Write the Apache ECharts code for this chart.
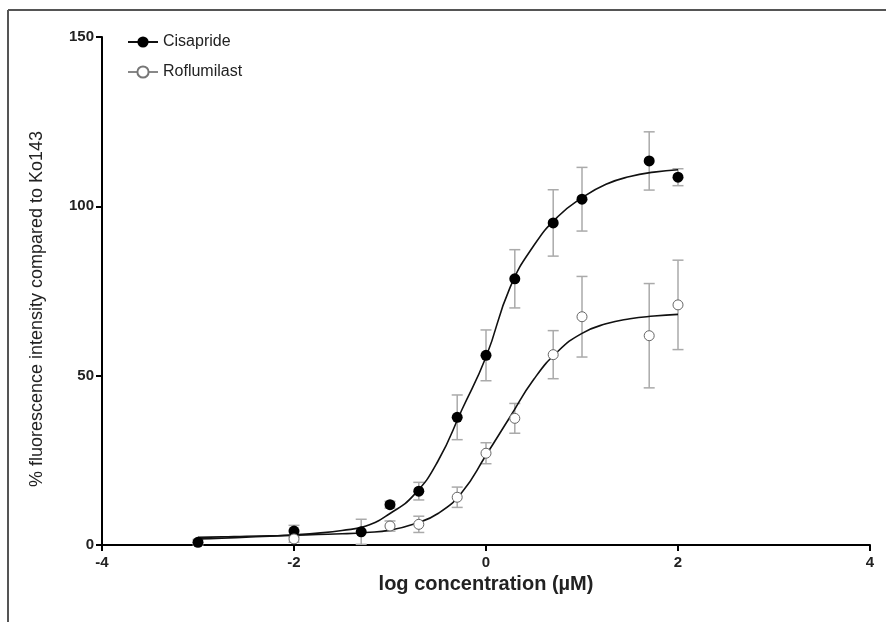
<!DOCTYPE html>
<html><head><meta charset="utf-8">
<script src="https://cdn.jsdelivr.net/npm/echarts@6/dist/echarts.min.js"></script>
<style>html,body{margin:0;padding:0;background:#fff}#c{width:886px;height:622px}</style>
</head><body><div id="c"></div>
<script>
// Measured data (log concentration in µM, mean and error)
const cisLogConc = [-3, -2, -1.3, -1, -0.7, -0.3, 0, 0.3, 0.7, 1, 1.7, 2];
const cisMean    = [0.8, 4.1, 3.9, 11.9, 15.9, 37.7, 56.0, 78.6, 95.1, 102.1, 113.4, 108.6];
const cisErr     = [0.8, 1.7, 3.7, 1.0, 2.6, 6.6, 7.5, 8.6, 9.8, 9.4, 8.6, 2.5];
const rofLogConc = [-2, -1, -0.7, -0.3, 0, 0.3, 0.7, 1, 1.7, 2];
const rofMean    = [1.8, 5.6, 6.1, 14.1, 27.1, 37.4, 56.2, 67.4, 61.8, 70.9];
const rofErr     = [1.0, 1.5, 2.4, 3.0, 3.1, 4.4, 7.1, 11.9, 15.4, 13.2];
// Fitted curves
const fitX   = [-3, -2.75, -2.5, -2.25, -2, -1.75, -1.5, -1.25, -1, -0.75, -0.5, -0.25, 0, 0.25, 0.5, 0.75, 1, 1.25, 1.5, 1.75, 2];
const cisFit = [1.8, 2.0, 2.3, 2.6, 3.0, 3.5, 4.3, 5.6, 9.3, 14.8, 24.8, 40.0, 55.5, 76.0, 88.5, 97.0, 102.5, 106.5, 108.8, 110.1, 110.8];
const rofFit = [2.3, 2.4, 2.6, 2.7, 2.9, 3.1, 3.3, 3.7, 4.4, 6.2, 9.3, 15.6, 26.5, 37.8, 49.0, 57.2, 62.5, 65.3, 66.8, 67.6, 68.1];
const xTicks = [-4, -2, 0, 2, 4];
const yTicks = [0, 50, 100, 150];

const FONT = "'Liberation Sans Narrow', 'Liberation Sans', Arial, sans-serif";
const chart = echarts.init(document.getElementById('c'), null, {renderer: 'canvas'});

function errSeries(xs, means, errs) {
  return {
    type: 'custom', silent: true, z: 1,
    data: xs.map((x, i) => [x, means[i] - errs[i], means[i] + errs[i]]),
    encode: {x: 0, y: [1, 2]},
    renderItem(params, api) {
      const x = api.value(0), lo = api.value(1), hi = api.value(2);
      const p1 = api.coord([x, lo]), p2 = api.coord([x, hi]);
      const w = 5.5, st = {stroke: '#aaaaaa', lineWidth: 1.5};
      return {type: 'group', children: [
        {type: 'line', shape: {x1: p1[0], y1: p1[1], x2: p2[0], y2: p2[1]}, style: st},
        {type: 'line', shape: {x1: p1[0] - w, y1: p1[1], x2: p1[0] + w, y2: p1[1]}, style: st},
        {type: 'line', shape: {x1: p2[0] - w, y1: p2[1], x2: p2[0] + w, y2: p2[1]}, style: st}
      ]};
    }
  };
}

chart.setOption({
  animation: false,
  backgroundColor: '#fff',
  grid: {left: 102, right: 16, top: 37, bottom: 77, containLabel: false},
  legend: {
    orient: 'vertical', left: 122, top: 29, itemWidth: 30, itemHeight: 14, itemGap: 14,
    textStyle: {fontFamily: 'Liberation Sans, Arial, sans-serif', fontSize: 16, color: '#222'},
    data: [
      {name: 'Cisapride'},
      {name: 'Roflumilast', lineStyle: {color: '#888'}}
    ]
  },
  xAxis: {
    type: 'value', min: xTicks[0], max: xTicks[xTicks.length - 1], interval: 2,
    name: 'log concentration (µM)', nameLocation: 'middle', nameGap: 29,
    nameTextStyle: {fontFamily: FONT, fontWeight: 'bold', fontSize: 20, color: '#222'},
    axisLine: {onZero: false, lineStyle: {color: '#000', width: 2}},
    axisTick: {show: true, length: 6, lineStyle: {color: '#000', width: 2}},
    axisLabel: {fontFamily: FONT, fontWeight: 'bold', fontSize: 15, color: '#222', margin: 10},
    splitLine: {show: false}
  },
  yAxis: {
    type: 'value', min: yTicks[0], max: yTicks[yTicks.length - 1], interval: 50,
    name: '% fluorescence intensity compared to Ko143', nameLocation: 'middle', nameGap: 56,
    nameTextStyle: {fontFamily: 'Liberation Sans, Arial, sans-serif', fontSize: 18, color: '#222', padding: [0, 36, 0, 0]},
    axisLine: {show: true, onZero: false, lineStyle: {color: '#000', width: 2}},
    axisTick: {show: true, length: 6, lineStyle: {color: '#000', width: 2}},
    axisLabel: {fontFamily: FONT, fontWeight: 'bold', fontSize: 15, color: '#222', margin: 8},
    splitLine: {show: false}
  },
  graphic: [
    {type: 'line', shape: {x1: 8, y1: 10, x2: 886, y2: 10}, style: {stroke: '#555', lineWidth: 2}, silent: true},
    {type: 'line', shape: {x1: 8, y1: 10, x2: 8, y2: 622}, style: {stroke: '#555', lineWidth: 2}, silent: true}
  ],
  series: [
    errSeries(cisLogConc, cisMean, cisErr),
    errSeries(rofLogConc, rofMean, rofErr),
    {
      name: 'Cisapride', type: 'line', smooth: true, showSymbol: false, symbol: 'circle', z: 2,
      data: fitX.map((x, i) => [x, cisFit[i]]),
      lineStyle: {color: '#111', width: 1.6}, itemStyle: {color: '#000'}
    },
    {
      name: 'Roflumilast', type: 'line', smooth: true, showSymbol: false, symbol: 'emptyCircle', z: 2,
      data: fitX.map((x, i) => [x, rofFit[i]]),
      lineStyle: {color: '#111', width: 1.6}, itemStyle: {color: '#777'}
    },
    {
      name: 'Cisapride points', type: 'scatter', symbol: 'circle', symbolSize: 11, z: 3,
      data: cisLogConc.map((x, i) => [x, cisMean[i]]),
      itemStyle: {color: '#000', opacity: 1}
    },
    {
      name: 'Roflumilast points', type: 'scatter', symbol: 'circle', symbolSize: 10, z: 3,
      data: rofLogConc.map((x, i) => [x, rofMean[i]]),
      itemStyle: {color: '#fff', borderColor: '#666', borderWidth: 1, opacity: 1}
    }
  ]
});
</script></body></html>
